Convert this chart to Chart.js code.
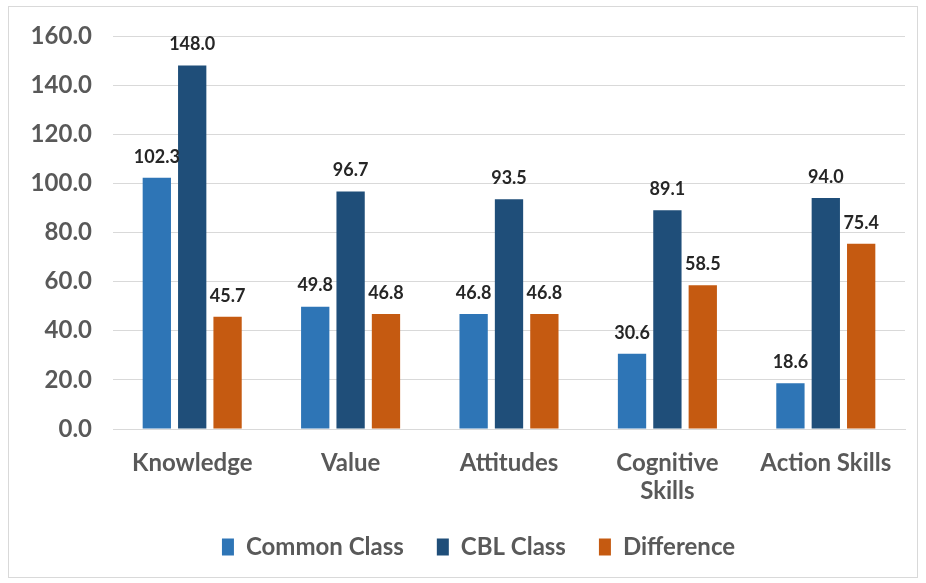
<!DOCTYPE html>
<html>
<head>
<meta charset="utf-8">
<script src="https://cdn.jsdelivr.net/npm/chart.js@4"></script>
<style>
  html, body { margin: 0; padding: 0; background: #fff; }
  #wrap { width: 926px; height: 583px; }
</style>
</head>
<body>
<div id="wrap"><canvas id="grafico" width="926" height="583"></canvas></div>
<script>
const categorias = ['Knowledge', 'Value', 'Attitudes', ['Cognitive', 'Skills'], 'Action Skills'];
const commonClass = [102.3, 49.8, 46.8, 30.6, 18.6];
const cblClass = [148.0, 96.7, 93.5, 89.1, 94.0];
const diferenca = [45.7, 46.8, 46.8, 58.5, 75.4];
const ticksY = [0, 20, 40, 60, 80, 100, 120, 140, 160];

const fonte = 'Lato, "Open Sans", sans-serif';

// moldura cinza em volta do gráfico
const moldura = {
    id: 'moldura',
    beforeDraw(chart) {
        const c = chart.ctx;
        c.save();
        c.fillStyle = '#fff';
        c.fillRect(0, 0, chart.width, chart.height);
        c.strokeStyle = '#d9d9d9';
        c.lineWidth = 1;
        c.strokeRect(8.5, 6.5, 909, 571);
        c.restore();
    }
};

// empurra a legenda um pouco para a direita, como no original
const ajusteLegenda = {
    id: 'ajusteLegenda',
    afterLayout(chart) {
        chart.legend.left += 26;
        chart.legend.right += 26;
    }
};

// rótulos de valor acima das barras
const rotulos = {
    id: 'rotulos',
    afterDatasetsDraw(chart) {
        const c = chart.ctx;
        c.save();
        c.font = 'bold 18px ' + fonte;
        c.fillStyle = '#262626';
        c.textAlign = 'center';
        c.textBaseline = 'middle';
        chart.data.datasets.forEach((ds, i) => {
            chart.getDatasetMeta(i).data.forEach((bar, j) => {
                c.fillText(ds.data[j].toFixed(1), bar.x, bar.y - 21);
            });
        });
        c.restore();
    }
};

const ctx = document.getElementById('grafico').getContext('2d');
const chart = new Chart(ctx, {
    type: 'bar',
    data: {
        labels: categorias,
        datasets: [
            { label: 'Common Class', data: commonClass, backgroundColor: '#2e75b6' },
            { label: 'CBL Class', data: cblClass, backgroundColor: '#1f4e79' },
            { label: 'Difference', data: diferenca, backgroundColor: '#c55a11' }
        ]
    },
    options: {
        responsive: false,
        animation: false,
        layout: { padding: { top: 36, right: 21, bottom: 14, left: 0 } },
        datasets: {
            bar: { categoryPercentage: 0.67, barPercentage: 0.8 }
        },
        scales: {
            x: {
                grid: { display: false, drawTicks: false },
                border: { display: true, color: '#d9d9d9' },
                ticks: {
                    color: '#595959',
                    padding: 20,
                    maxRotation: 0,
                    font: { family: fonte, size: 24, weight: 'bold', lineHeight: 1.17 }
                },
                afterFit(scale) { scale.height = 73; }
            },
            y: {
                min: 0,
                max: 160,
                afterBuildTicks(scale) { scale.ticks = ticksY.map(v => ({ value: v })); },
                grid: { color: '#d9d9d9', drawTicks: false },
                border: { display: false },
                ticks: {
                    color: '#595959',
                    padding: 21,
                    font: { family: fonte, size: 24, weight: 'bold' },
                    callback: v => v.toFixed(1)
                },
                afterFit(scale) { scale.width = 113; }
            }
        },
        plugins: {
            legend: {
                position: 'bottom',
                labels: {
                    boxWidth: 12,
                    boxHeight: 17,
                    padding: 33,
                    color: '#595959',
                    font: { family: fonte, size: 24, weight: 'bold' }
                }
            },
            tooltip: { enabled: false }
        }
    },
    plugins: [moldura, ajusteLegenda, rotulos]
});
</script>
</body>
</html>
